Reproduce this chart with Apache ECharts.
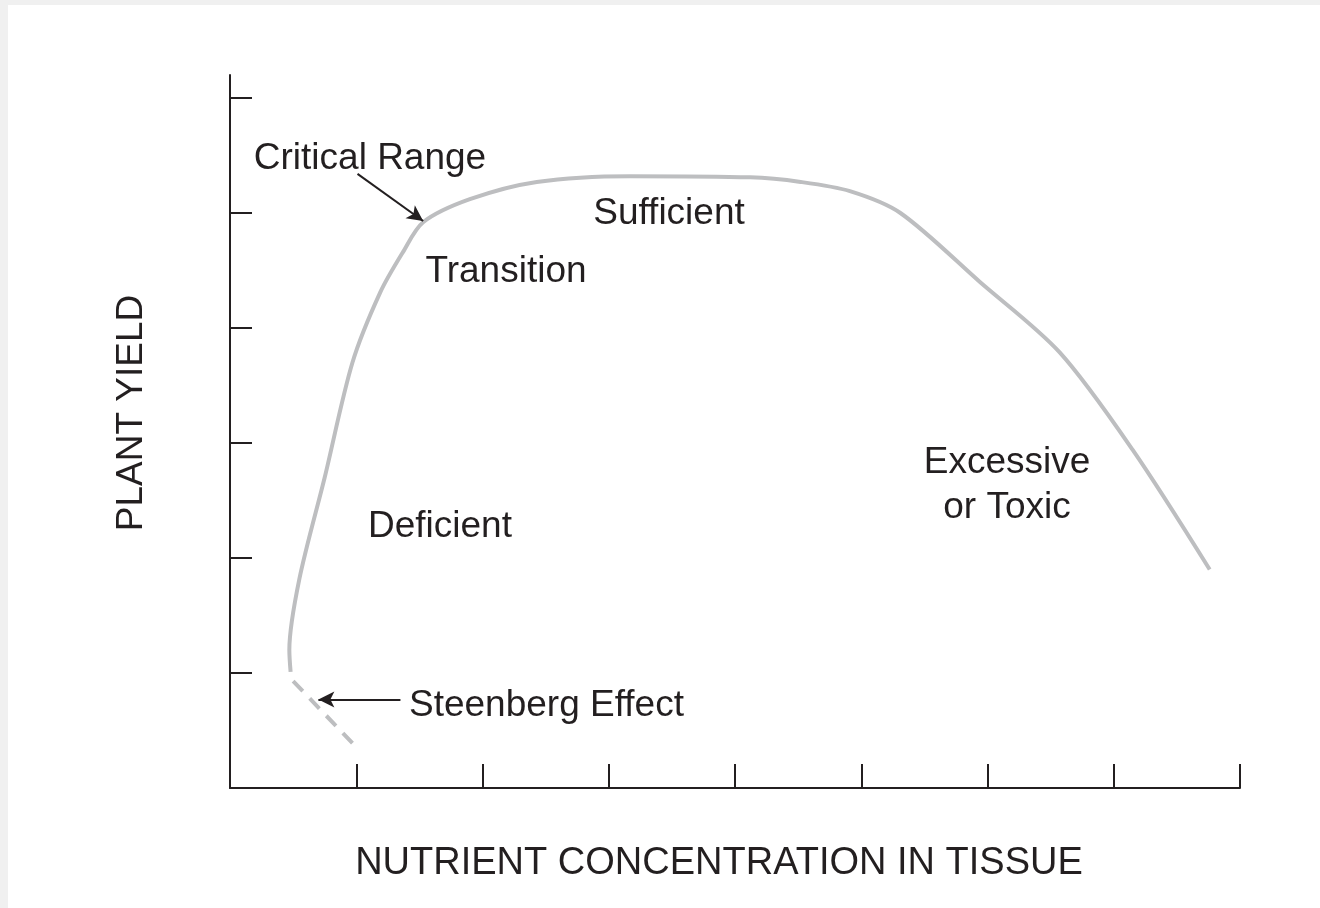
<!DOCTYPE html>
<html>
<head>
<meta charset="utf-8">
<title>Plant yield vs nutrient concentration</title>
<script src="https://cdn.jsdelivr.net/npm/echarts@6/dist/echarts.min.js"></script>
<style>
  html, body { margin: 0; padding: 0; background: #f0f0f0; }
  #chart { position: absolute; left: 8px; top: 5px; width: 1312px; height: 903px; background: #fff; }
</style>
</head>
<body>
<div id="chart"></div>
<script>
// yield curve (x = concentration, y = yield)
var curveX = [0.48, 0.47, 0.55, 0.75, 0.97, 1.19, 1.37, 1.53, 1.90, 2.43, 3.17, 4.12, 4.52, 4.91, 5.31, 5.94, 6.57, 7.15, 7.76]
var curveY = [1.01, 1.20, 1.82, 2.70, 3.70, 4.31, 4.66, 4.92, 5.12, 5.27, 5.32, 5.31, 5.27, 5.19, 5.00, 4.40, 3.79, 2.94, 1.90]

// dashed tail below the Steenberg dip
var dashX = [0.50, 0.97]
var dashY = [0.93, 0.39]

// annotation arrows (from, to)
var criticalArrow = [[1.01, 5.34], [1.53, 4.93]]
var steenbergArrow = [[1.35, 0.77], [0.70, 0.77]]

var yTicks = [1, 2, 3, 4, 5, 6]

function pairs(xs, ys) {
  return xs.map(function (x, i) { return [x, ys[i]] })
}

var ink = '#231f20'
var curveColor = '#bdbec0'
var font = '"Liberation Sans", Arial, sans-serif'

function label(text, x, y, align) {
  return {
    type: 'text',
    x: x,
    y: y,
    style: {
      text: text,
      fill: ink,
      font: '37px ' + font,
      align: align || 'center',
      verticalAlign: 'middle'
    }
  }
}

function arrow(pts) {
  return [{ coord: pts[0] }, { coord: pts[1] }]
}

var chart = echarts.init(document.getElementById('chart'))
chart.setOption({
  animation: false,
  grid: {
    left: 222,
    right: 80,
    top: 70,
    bottom: 120
  },
  xAxis: {
    type: 'value',
    min: 0,
    max: 8,
    interval: 1,
    axisLine: { onZero: false, lineStyle: { color: ink, width: 2 } },
    axisTick: { inside: true, length: 24, lineStyle: { color: ink, width: 2 } },
    axisLabel: { show: false },
    splitLine: { show: false }
  },
  yAxis: {
    type: 'value',
    min: 0,
    max: 6.2,
    interval: 1,
    axisLine: { show: true, onZero: false, lineStyle: { color: ink, width: 2 } },
    axisTick: {
      show: true,
      inside: true,
      length: 22,
      customValues: yTicks,
      lineStyle: { color: ink, width: 2 }
    },
    axisLabel: { show: false },
    splitLine: { show: false }
  },
  series: [
    {
      name: 'yield',
      type: 'line',
      smooth: 0.3,
      symbol: 'none',
      lineStyle: { color: curveColor, width: 4 },
      data: pairs(curveX, curveY),
      markLine: {
        silent: true,
        symbol: ['none', 'arrow'],
        symbolSize: [12, 16],
        label: { show: false },
        lineStyle: { color: ink, width: 2, type: 'solid' },
        data: [arrow(criticalArrow), arrow(steenbergArrow)]
      }
    },
    {
      name: 'dip',
      type: 'line',
      symbol: 'none',
      lineStyle: { color: curveColor, width: 4, type: [14, 10] },
      data: pairs(dashX, dashY)
    }
  ],
  graphic: [
    label('Critical Range', 362, 154),
    label('Transition', 498, 267),
    label('Sufficient', 661, 209),
    label('Deficient', 432, 522),
    label('Excessive', 999, 458),
    label('or Toxic', 999, 503),
    label('Steenberg Effect', 401, 701, 'left'),
    {
      type: 'text',
      x: 124,
      y: 408,
      rotation: Math.PI / 2,
      style: {
        text: 'PLANT YIELD',
        fill: ink,
        font: '37px ' + font,
        align: 'center',
        verticalAlign: 'middle'
      }
    },
    {
      type: 'text',
      x: 711,
      y: 859,
      style: {
        text: 'NUTRIENT CONCENTRATION IN TISSUE',
        fill: ink,
        font: '38px ' + font,
        align: 'center',
        verticalAlign: 'middle'
      }
    }
  ]
})
</script>
</body>
</html>
